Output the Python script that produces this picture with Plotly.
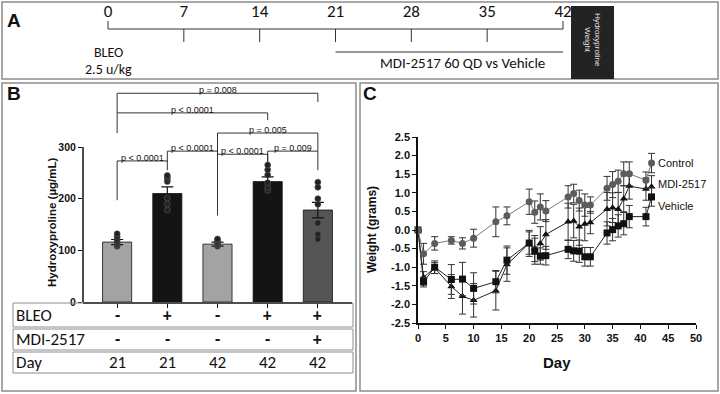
import plotly.graph_objects as go

W, H = 720, 394

# ---------------- Panel A : study timeline ----------------
timeline_days = [0, 7, 14, 21, 28, 35, 42]
bleo_day = 0
treatment_days = [21, 42]

# ---------------- Panel B : hydroxyproline ----------------
group_idx = [0, 1, 2, 3, 4]
hyp_mean = [116, 210, 112, 233, 178]
hyp_sem = [5, 13, 4, 9, 15]
hyp_points = [
    [108, 110, 112, 115, 118, 122, 127, 132],
    [178, 190, 201, 233, 238, 242, 245],
    [108, 110, 112, 114, 117, 120, 122],
    [216, 222, 231, 246, 256, 265],
    [122, 131, 153, 189, 200, 222, 232],
]
hyp_ticks = [0, 100, 200, 300]
row_bleo = ['-', '+', '-', '+', '+']
row_mdi = ['-', '-', '-', '-', '+']
row_day = ['21', '21', '42', '42', '42']
# (left group, right group, label, bracket top, left foot, right foot)
comparisons = [
    (0, 1, 'p < 0.0001', 273, 197, 255),
    (1, 2, 'p < 0.0001', 292, 271, 168),
    (2, 3, 'p < 0.0001', 286, 168, 269),
    (3, 4, 'p = 0.009', 292, 269, 255),
    (2, 4, 'p = 0.005', 327, 168, 292),
    (0, 3, 'p < 0.0001', 366, 327, 352),
    (0, 4, 'p = 0.008', 404, 366, 387),
]

# ---------------- Panel C : body weight ----------------
days = [0, 1, 3, 6, 8, 10, 14, 16, 20, 21, 22, 23, 27, 28, 29, 30, 31, 34, 35, 36, 37, 38, 41, 42]
control = [0, -0.64, -0.36, -0.28, -0.36, -0.22, 0.22, 0.38, 0.76, 0.48, 0.62, 0.51,
           0.89, 0.98, 0.79, 0.67, 0.67, 1.12, 1.22, 1.31, 1.51, 1.51, 1.34, 1.80]
control_err = [0, 0.28, 0.18, 0.10, 0.15, 0.24, 0.40, 0.24, 0.34, 0.30, 0.35, 0.28,
               0.30, 0.25, 0.28, 0.30, 0.22, 0.32, 0.35, 0.30, 0.32, 0.32, 0.22, 0.26]
vehicle = [0, -1.40, -1.00, -1.33, -1.32, -1.57, -1.39, -0.81, -0.35, -0.57, -0.70, -0.69,
           -0.52, -0.56, -0.57, -0.72, -0.72, -0.08, 0.01, 0.11, 0.17, 0.36, 0.36, 0.89]
vehicle_err = [0, 0.13, 0.17, 0.40, 0.45, 0.42, 0.30, 0.38, 0.30, 0.35, 0.22, 0.25,
               0.25, 0.28, 0.30, 0.25, 0.25, 0.30, 0.30, 0.30, 0.30, 0.30, 0.25, 0.25]
mdi = [0, -1.27, -1.02, -1.52, -1.78, -1.89, -1.63, -0.93, -0.36, -0.50, -0.36, -0.12,
       0.22, 0.24, 0.09, 0.16, 0.20, 0.56, 0.60, 0.56, 0.84, 1.18, 1.10, 1.16]
mdi_err = [0, 0.15, 0.15, 0.32, 0.48, 0.45, 0.52, 0.45, 0.35, 0.35, 0.45, 0.40,
           0.50, 0.45, 0.50, 0.45, 0.30, 0.45, 0.40, 0.45, 0.35, 0.35, 0.30, 0.30]
day_ticks = [0, 5, 10, 15, 20, 25, 30, 35, 40, 45, 50]
weight_ticks = [-2.5, -2.0, -1.5, -1.0, -0.5, 0.0, 0.5, 1.0, 1.5, 2.0, 2.5]

ARIAL = "Liberation Sans, Arial, sans-serif"
CAL = "Carlito, Lato, sans-serif"


def px(x):
    return x / W


def py(y):
    return 1 - y / H


fig = go.Figure()

# ---------- Panel A traces (axes x3/y3, y in pixel units) ----------
d0, d1 = timeline_days[0], timeline_days[-1]
p0, p1 = 108, 563
scale = (p1 - p0) / (d1 - d0)
x3_range = [d0 - p0 / scale, d0 + (W - p0) / scale]

fig.add_trace(go.Scatter(x=[d0, d1], y=[29, 29], mode='lines', xaxis='x3', yaxis='y3',
                         line=dict(color='#333', width=1), hoverinfo='skip'))
tx, ty = [], []
for d in timeline_days:
    tx += [d, d, None]
    if d in (d0, d1):
        ty += [21, 29, None]
    else:
        ty += [29, 42, None]
fig.add_trace(go.Scatter(x=tx, y=ty, mode='lines', xaxis='x3', yaxis='y3',
                         line=dict(color='#333', width=1), hoverinfo='skip'))
fig.add_trace(go.Scatter(x=timeline_days, y=[13] * len(timeline_days), mode='text',
                         text=[str(d) for d in timeline_days], xaxis='x3', yaxis='y3',
                         textfont=dict(family=CAL, size=17, color='#111'), hoverinfo='skip'))
fig.add_trace(go.Scatter(x=treatment_days, y=[52, 52], mode='lines', xaxis='x3', yaxis='y3',
                         line=dict(color='#333', width=1), hoverinfo='skip'))

# ---------- Panel B traces ----------
bar_colors = ['#a3a3a3', '#141414', '#a3a3a3', '#141414', '#555555']
fig.add_trace(go.Bar(x=group_idx, y=hyp_mean, width=0.58, xaxis='x', yaxis='y',
                     marker=dict(color=bar_colors, line=dict(color='#111', width=0.8)),
                     error_y=dict(type='data', array=hyp_sem, color='#111', thickness=1.2, width=6)))
dx, dy = [], []
for i, pts in zip(group_idx, hyp_points):
    dx += [i] * len(pts)
    dy += pts
fig.add_trace(go.Scatter(x=dx, y=dy, mode='markers', xaxis='x', yaxis='y', cliponaxis=False,
                         marker=dict(size=6, color='#222', line=dict(color='#555', width=0.6))))
bx, by = [], []
for a, b, lab, top, fa, fb in comparisons:
    bx += [a, a, b, b, None]
    by += [fa, top, top, fb, None]
fig.add_trace(go.Scatter(x=bx, y=by, mode='lines', xaxis='x', yaxis='y',
                         line=dict(color='#333', width=1), hoverinfo='skip'))

# ---------- Panel C traces ----------
series = [
    ('MDI-2517', mdi, mdi_err, 'triangle-up', '#111', '#222'),
    ('Vehicle', vehicle, vehicle_err, 'square', '#111', '#222'),
    ('Control', control, control_err, 'circle', '#5c5c5c', '#7a7a7a'),
]
for name, vals, err, sym, mcol, lcol in series:
    fig.add_trace(go.Scatter(x=days, y=vals, mode='lines+markers', name=name,
                             xaxis='x2', yaxis='y2', cliponaxis=False,
                             line=dict(color=lcol, width=1),
                             marker=dict(symbol=sym, size=7, color=mcol),
                             error_y=dict(type='data', array=err, color='#333',
                                          thickness=1, width=3.5)))

# ---------- shapes ----------
shapes = []
border = dict(color='#8c8c8c', width=1.5)
for x0, y0, x1, y1 in [(2, 2, 718, 79), (2, 83, 356, 391), (360, 83, 718, 391)]:
    shapes.append(dict(type='rect', xref='paper', yref='paper', x0=px(x0), x1=px(x1),
                       y0=py(y1), y1=py(y0), line=border, layer='below'))
# black box in panel A
shapes.append(dict(type='rect', xref='paper', yref='paper', x0=px(571), x1=px(614),
                   y0=py(79), y1=py(6), fillcolor='#232323', line=dict(width=0)))
# y axis line panel B (0..300 only)
shapes.append(dict(type='line', xref='x domain', yref='y', x0=0, x1=0,
                   y0=hyp_ticks[0], y1=hyp_ticks[-1], line=dict(color='#111', width=1.5)))
# table rows
table_rows = [(303, 327), (329, 350), (352, 373)]
for r0, r1 in table_rows:
    shapes.append(dict(type='rect', xref='paper', yref='paper', x0=px(13), x1=px(353),
                       y0=py(r1), y1=py(r0), line=dict(color='#8c8c8c', width=1)))

# ---------- annotations ----------
ann = []


def note(text, x, y, xref='paper', yref='paper', size=11, family=ARIAL, color='#111',
         xanchor='center', yanchor='middle', **kw):
    ann.append(dict(text=text, x=x, y=y, xref=xref, yref=yref, showarrow=False,
                    xanchor=xanchor, yanchor=yanchor, borderpad=0,
                    font=dict(family=family, size=size, color=color), **kw))


# panel labels
for lab, x, y in [('A', 14, 20), ('B', 14, 93), ('C', 370, 93)]:
    note('<b>%s</b>' % lab, px(x), py(y), size=19)
# panel A texts
note('BLEO', bleo_day, 52, xref='x3', yref='y3', size=14, family=CAL)
note('2.5 u/kg', bleo_day, 69, xref='x3', yref='y3', size=14, family=CAL)
note('MDI-2517 60 QD vs Vehicle', px(462), 63, yref='y3', size=15, family=CAL)
note('Hydroxyproline<br>Weight', px(592), py(40), size=8, color='#e0e0e0', textangle=90)
# panel B y title
note('<b>Hydroxyproline (µg/mL)</b>', px(52), py(222), size=11.5, textangle=-90)
# p-value labels
for a, b, lab, top, fa, fb in comparisons:
    note(lab, (a + b) / 2, top, xref='x', yref='y', size=9, yanchor='bottom', yshift=-3)
# table
for (r0, r1), label, vals in zip(table_rows, ['BLEO', 'MDI-2517', 'Day'],
                                 [row_bleo, row_mdi, row_day]):
    yc = py((r0 + r1) / 2)
    note(label, px(15), yc, size=17, family=CAL, xanchor='left')
    for i, v in zip(group_idx, vals):
        note('<b>%s</b>' % v if v in '+-' else v, i, yc, xref='x', size=17, family=CAL)
# panel C titles
note('<b>Day</b>', px(557), py(362), size=15)
note('<b>Weight (grams)</b>', px(372), py(230), size=12, textangle=-90)
# series labels
for name, yv in [('Control', control[-1]), ('MDI-2517', 1.25), ('Vehicle', 0.65)]:
    note(name, days[-1], yv, xref='x2', yref='y2', size=11, xanchor='left', xshift=5)

axis_common = dict(showgrid=False, zeroline=False, ticks='outside', tickcolor='#111',
                   tickwidth=1.2, ticklen=4)

fig.update_layout(
    width=W, height=H, autosize=False,
    margin=dict(l=0, r=0, t=0, b=0, pad=0, autoexpand=False),
    paper_bgcolor='white', plot_bgcolor='rgba(0,0,0,0)', showlegend=False,
    shapes=shapes, annotations=ann,
    xaxis=dict(domain=[px(83), px(352)], range=[-0.68, 4.68], anchor='y',
               showline=True, linecolor='#111', linewidth=1.5, tickvals=group_idx,
               showticklabels=False, **axis_common),
    yaxis=dict(domain=[py(302), py(85)], range=[0, 420], anchor='x', showline=False,
               tickvals=hyp_ticks, ticktext=['<b>%d</b>' % t for t in hyp_ticks],
               tickfont=dict(family=ARIAL, size=10.5, color='#111'), **axis_common),
    xaxis2=dict(domain=[px(418), px(696)], range=[day_ticks[0], day_ticks[-1]], anchor='y2',
                showline=True, linecolor='#111', linewidth=1.5, tickvals=day_ticks,
                ticktext=['<b>%d</b>' % t for t in day_ticks],
                tickfont=dict(family=ARIAL, size=11, color='#111'), **axis_common),
    yaxis2=dict(domain=[py(323), py(137)], range=[weight_ticks[0], weight_ticks[-1]], anchor='x2',
                showline=True, linecolor='#111', linewidth=1.5, tickvals=weight_ticks,
                ticktext=['<b>%.1f</b>' % t for t in weight_ticks],
                tickfont=dict(family=ARIAL, size=11, color='#111'), **axis_common),
    xaxis3=dict(domain=[0, 1], range=x3_range, anchor='y3', visible=False),
    yaxis3=dict(domain=[py(82), 1], range=[82, 0], anchor='x3', visible=False),
)

fig.write_html("out.html", config={'displayModeBar': False},
               post_script="document.body.style.margin='0';document.body.style.padding='0';"
                           "document.body.style.overflow='hidden';")
